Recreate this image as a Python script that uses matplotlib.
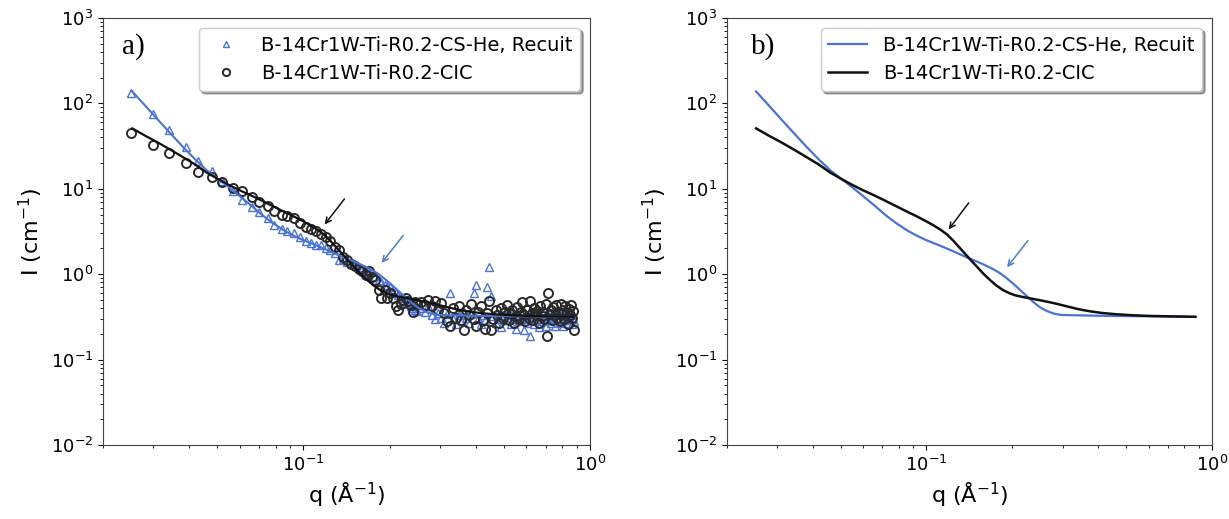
import matplotlib
matplotlib.use("Agg")
import matplotlib.pyplot as plt

# ---------------- data ----------------
label_recuit = "B-14Cr1W-Ti-R0.2-CS-He, Recuit"
label_cic = "B-14Cr1W-Ti-R0.2-CIC"

q_data = [0.025, 0.030, 0.034, 0.039, 0.043, 0.048, 0.052, 0.057, 0.061, 0.066,
          0.070, 0.075, 0.079, 0.084, 0.088, 0.093, 0.097, 0.102, 0.106, 0.111,
          0.115, 0.120, 0.124, 0.129, 0.133, 0.138, 0.142, 0.147, 0.151, 0.156,
          0.160, 0.165, 0.169, 0.174, 0.178, 0.183, 0.187, 0.192, 0.196, 0.201,
          0.205, 0.210, 0.214, 0.219, 0.223, 0.228, 0.232, 0.237, 0.241, 0.246,
          0.250,
          0.258, 0.265, 0.273, 0.280, 0.288, 0.295, 0.303, 0.310, 0.318, 0.325,
          0.333, 0.340, 0.348, 0.355, 0.363, 0.370, 0.378, 0.385, 0.393, 0.400,
          0.408, 0.415, 0.423, 0.430, 0.438, 0.445, 0.453, 0.460, 0.468, 0.475,
          0.483, 0.490, 0.498, 0.505, 0.513, 0.520, 0.528, 0.535, 0.543, 0.550,
          0.558, 0.565, 0.573, 0.580, 0.588, 0.595, 0.603, 0.610, 0.618, 0.625,
          0.633, 0.640, 0.648, 0.655, 0.663, 0.670, 0.678, 0.685, 0.693, 0.700,
          0.708, 0.715, 0.723, 0.730, 0.738, 0.745, 0.753, 0.760, 0.768, 0.775,
          0.783, 0.790, 0.798, 0.805, 0.813, 0.820, 0.828, 0.835, 0.843, 0.850,
          0.858, 0.865, 0.873, 0.880]

I_recuit = [131, 75, 49, 31, 21, 16, 12.3, 9.3, 7.4, 6.2,
            5.3, 4.5, 3.8, 3.4, 3.2, 3.0, 2.75, 2.45, 2.35, 2.2,
            2.2, 2.0, 1.9, 1.75, 1.47, 1.5, 1.4, 1.34, 1.3, 1.2,
            1.15, 1.1, 1.02, 1.05, 0.95, 0.86, 0.8, 0.75, 0.72, 0.7,
            0.62, 0.6, 0.57, 0.52, 0.5, 0.46, 0.45, 0.42, 0.4, 0.38,
            0.37,
            0.40, 0.36, 0.42, 0.33, 0.30, 0.35, 0.31, 0.27, 0.34, 0.60,
            0.30, 0.26, 0.33, 0.29, 0.36, 0.31, 0.27, 0.34, 0.60, 0.75,
            0.30, 0.26, 0.33, 0.29, 0.70, 1.22, 0.56, 0.32, 0.27, 0.35,
            0.30, 0.24, 0.33, 0.29, 0.36, 0.31, 0.26, 0.34, 0.30, 0.23,
            0.33, 0.28, 0.35, 0.31, 0.22, 0.30, 0.27, 0.34, 0.19, 0.29,
            0.32, 0.26, 0.35, 0.30, 0.24, 0.33, 0.28, 0.36, 0.31, 0.25,
            0.33, 0.29, 0.35, 0.27, 0.32, 0.30, 0.25, 0.34, 0.29, 0.31,
            0.27, 0.33, 0.30, 0.25, 0.32, 0.29, 0.34, 0.27, 0.31, 0.29,
            0.33, 0.26, 0.30, 0.28]

I_cic = [44.7, 33, 26, 20.2, 15.6, 13.6, 12.1, 10.1, 9.3, 8.1,
         7.1, 6.3, 5.5, 5.0, 4.8, 4.5, 4.0, 3.6, 3.4, 3.2,
         2.95, 2.7, 2.45, 2.1, 1.9, 1.6, 1.45, 1.3, 1.25, 1.15,
         1.1, 0.98, 1.1, 0.93, 0.85, 0.65, 0.52, 0.65, 0.52, 0.6,
         0.52, 0.42, 0.38, 0.45, 0.5, 0.52, 0.48, 0.44, 0.36, 0.47,
         0.45,
         0.47, 0.44, 0.50, 0.42, 0.48, 0.38, 0.46, 0.35, 0.28, 0.25,
         0.40, 0.31, 0.42, 0.29, 0.22, 0.38, 0.33, 0.45, 0.30, 0.25,
         0.36, 0.42, 0.29, 0.23, 0.35, 0.48, 0.22, 0.30, 0.38, 0.33,
         0.27, 0.40, 0.31, 0.36, 0.44, 0.29, 0.34, 0.38, 0.27, 0.32,
         0.41, 0.30, 0.36, 0.47, 0.33, 0.28, 0.38, 0.31, 0.49, 0.35,
         0.29, 0.40, 0.33, 0.37, 0.27, 0.42, 0.32, 0.36, 0.30, 0.45,
         0.19, 0.60, 0.34, 0.38, 0.29, 0.41, 0.33, 0.44, 0.31, 0.36,
         0.28, 0.45, 0.34, 0.38, 0.30, 0.42, 0.35, 0.26, 0.39, 0.33,
         0.44, 0.31, 0.37, 0.22]

q_fit_recuit = [0.0253, 0.028, 0.031, 0.0345, 0.038, 0.042, 0.046, 0.05, 0.055,
                0.06, 0.066, 0.072, 0.078, 0.085, 0.092, 0.1, 0.11, 0.12, 0.13,
                0.14, 0.15, 0.16, 0.17, 0.18, 0.19, 0.2, 0.21, 0.22, 0.23, 0.24,
                0.25, 0.26, 0.27, 0.28, 0.29, 0.30, 0.35, 0.43, 0.6, 0.875]
I_fit_recuit = [138, 95, 65, 44, 31, 22, 16.5, 13.3, 10.4,
                8.2, 6.3, 4.9, 4.0, 3.3, 2.85, 2.5, 2.2, 1.95, 1.73,
                1.55, 1.41, 1.28, 1.16, 1.04, 0.91, 0.79, 0.68, 0.59, 0.515, 0.455,
                0.41, 0.38, 0.36, 0.345, 0.337, 0.333, 0.329, 0.325, 0.321, 0.316]

q_fit_cic = [0.0253, 0.028, 0.031, 0.0345, 0.038, 0.042, 0.046, 0.05, 0.055,
             0.06, 0.066, 0.072, 0.078, 0.085, 0.092, 0.1, 0.106, 0.112, 0.118,
             0.124, 0.13, 0.136, 0.142, 0.15, 0.158, 0.166, 0.175, 0.185, 0.195,
             0.205, 0.218, 0.232, 0.25, 0.27, 0.29, 0.315, 0.34, 0.37, 0.41,
             0.46, 0.53, 0.62, 0.75, 0.875]
I_fit_cic = [51, 42, 35, 28.5, 23.5, 19.2, 15.5, 13.2, 11.1,
             9.6, 8.3, 7.2, 6.3, 5.45, 4.8, 4.15, 3.72, 3.32, 2.92,
             2.48, 2.08, 1.76, 1.5, 1.23, 1.02, 0.87, 0.745, 0.655, 0.6,
             0.565, 0.54, 0.52, 0.495, 0.47, 0.445, 0.415, 0.39, 0.37, 0.352,
             0.34, 0.33, 0.324, 0.32, 0.317]

# arrow (tail -> head) in data coordinates
arrow_a_cic = ((0.141, 8.07), (0.117, 3.6))
arrow_a_recuit = ((0.226, 3.01), (0.185, 1.28))
arrow_b_cic = ((0.1425, 7.26), (0.118, 3.15))
arrow_b_recuit = ((0.230, 2.63), (0.189, 1.14))

# ---------------- style ----------------
blue = "#4a72d8"
arrow_blue = "#4d7fc0"
black = "#111111"
circ_col = "#2a2a2a"

fig = plt.figure(figsize=(12.29, 5.19), dpi=100)
ax_a = fig.add_axes([0.0838, 0.1426, 0.3963, 0.8227])
ax_b = fig.add_axes([0.5915, 0.1426, 0.3946, 0.8227])

for ax in (ax_a, ax_b):
    ax.set_xscale("log")
    ax.set_yscale("log")
    ax.set_xlim(0.02, 1.0)
    ax.set_ylim(1e-2, 1e3)
    ax.tick_params(labelsize=13)
    for s in ax.spines.values():
        s.set_color("#444444")
    ax.set_xlabel("q (Å$^{-1}$)", fontsize=16)
    ax.set_ylabel("I (cm$^{-1}$)", fontsize=16)

# panel a
ax_a.plot(q_data, I_recuit, linestyle="none", marker="^", markersize=5.3,
          markerfacecolor="none", markeredgecolor=blue, markeredgewidth=1.0,
          label=label_recuit)
ax_a.plot(q_data, I_cic, linestyle="none", marker="o", markersize=6.5,
          markerfacecolor="none", markeredgecolor=circ_col, markeredgewidth=1.4,
          label=label_cic)
ax_a.plot(q_fit_recuit, I_fit_recuit, color=blue, lw=1.5)
ax_a.plot(q_fit_cic, I_fit_cic, color=black, lw=1.6)
ax_a.legend(loc="upper right", fontsize=14, shadow=True, fancybox=True,
            framealpha=1.0, markerscale=0.8)
ax_a.text(0.04, 0.965, "a)", transform=ax_a.transAxes, ha="left", va="top",
          fontsize=21, family="Liberation Serif")

# panel b
ax_b.plot(q_fit_recuit, I_fit_recuit, color=blue, lw=1.6, label=label_recuit)
ax_b.plot(q_fit_cic, I_fit_cic, color=black, lw=1.8, label=label_cic)
ax_b.legend(loc="upper right", fontsize=14, shadow=True, fancybox=True,
            framealpha=1.0)
ax_b.text(0.05, 0.965, "b)", transform=ax_b.transAxes, ha="left", va="top",
          fontsize=21, family="Liberation Serif")

for ax, (arr_k, arr_b) in ((ax_a, (arrow_a_cic, arrow_a_recuit)),
                           (ax_b, (arrow_b_cic, arrow_b_recuit))):
    ax.annotate("", xy=arr_k[1], xytext=arr_k[0],
                arrowprops=dict(arrowstyle="->", color=black, lw=1.1))
    ax.annotate("", xy=arr_b[1], xytext=arr_b[0],
                arrowprops=dict(arrowstyle="->", color=arrow_blue, lw=1.1))

fig.savefig("out.png", dpi=100)
